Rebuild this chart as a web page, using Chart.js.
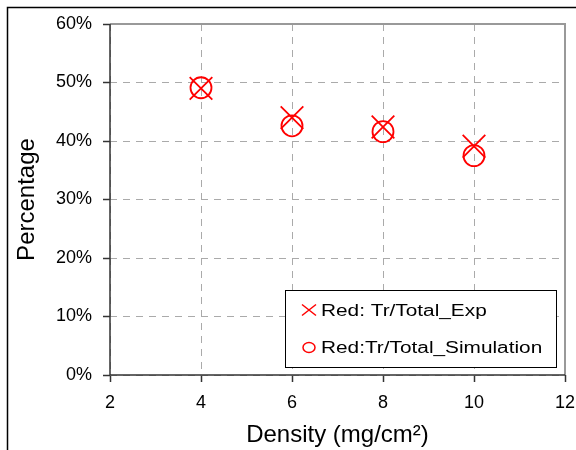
<!DOCTYPE html>
<html>
<head>
<meta charset="utf-8">
<script src="https://cdn.jsdelivr.net/npm/chart.js@4/dist/chart.umd.min.js"></script>
<style>
  html, body { margin: 0; padding: 0; background: #fff; }
  #wrap { width: 576px; height: 450px; }
</style>
</head>
<body>
<div id="wrap"><canvas id="chart" width="576" height="450"></canvas></div>
<script>
// values
const densities = [4, 6, 8, 10];
const expPercent = [49.0, 44.0, 42.4, 39.1];
const simPercent = [49.1, 42.6, 41.6, 37.5];
const seriesLabels = ['Red: Tr/Total_Exp', 'Red:Tr/Total_Simulation'];
const xTitle = 'Density (mg/cm\u00B2)';
const yTitle = 'Percentage';

const FONT = "'Liberation Sans', Arial, sans-serif";
Chart.defaults.font.family = FONT;
Chart.defaults.color = '#000';

const toPoints = (ys) => densities.map((d, i) => ({ x: d, y: ys[i] }));

// outer frame + plot frame lines
const framePlugin = {
    id: 'frame',
    beforeDraw(chart) {
        const ctx = chart.ctx;
        ctx.save();
        ctx.fillStyle = '#fff';
        ctx.fillRect(0, 0, chart.width, chart.height);
        ctx.strokeStyle = '#000';
        ctx.lineWidth = 1.5;
        ctx.beginPath();
        ctx.moveTo(7.5, chart.height);
        ctx.lineTo(7.5, 7.5);
        ctx.lineTo(chart.width, 7.5);
        ctx.stroke();
        ctx.restore();
    },
    beforeDatasetsDraw(chart) {
        const { ctx, chartArea: a } = chart;
        ctx.save();
        ctx.strokeStyle = '#999';
        ctx.lineWidth = 2;
        ctx.beginPath();
        ctx.moveTo(a.left, a.top);
        ctx.lineTo(a.right, a.top);
        ctx.lineTo(a.right, a.bottom);
        ctx.stroke();
        ctx.strokeStyle = '#333';
        ctx.lineWidth = 1.5;
        ctx.beginPath();
        ctx.moveTo(a.left, a.top);
        ctx.lineTo(a.left, a.bottom);
        ctx.lineTo(a.right, a.bottom);
        ctx.stroke();
        ctx.restore();
    }
};

// boxed legend inside the plot, lower right (text is horizontally stretched like the source)
const boxLegend = {
    id: 'boxLegend',
    afterDraw(chart) {
        const ctx = chart.ctx;
        const box = { x: 285.5, y: 290.5, w: 271, h: 77 };
        const rows = [310, 347.5];
        const sx = 1.3;
        ctx.save();
        ctx.fillStyle = '#fff';
        ctx.fillRect(box.x, box.y, box.w, box.h);
        ctx.strokeStyle = '#000';
        ctx.lineWidth = 1;
        ctx.strokeRect(box.x, box.y, box.w, box.h);

        chart.data.datasets.forEach((ds, i) => {
            const cy = rows[i];
            ctx.strokeStyle = ds.borderColor;
            ctx.lineWidth = 1.5;
            ctx.beginPath();
            if (ds.pointStyle === 'crossRot') {
                ctx.moveTo(302, cy - 5.5); ctx.lineTo(316, cy + 5.5);
                ctx.moveTo(316, cy - 5.5); ctx.lineTo(302, cy + 5.5);
            } else {
                ctx.ellipse(309, cy, 6, 5, 0, 0, Math.PI * 2);
            }
            ctx.stroke();

            ctx.save();
            ctx.translate(321, cy + 5.5);
            ctx.scale(sx, 1);
            ctx.fillStyle = '#000';
            ctx.font = '16px ' + FONT;
            ctx.textBaseline = 'alphabetic';
            ctx.fillText(ds.label, 0, 0);
            ctx.restore();
        });
        ctx.restore();
    }
};

const gridCommon = {
    color: '#aaa',
    lineWidth: 1,
    drawTicks: true,
    tickLength: 7,
    tickColor: '#333',
    tickWidth: 1.5,
    tickBorderDash: []
};

new Chart(document.getElementById('chart'), {
    type: 'scatter',
    data: {
        datasets: [
            {
                label: seriesLabels[0],
                data: toPoints(expPercent),
                pointStyle: 'crossRot',
                pointRadius: 16,
                pointHoverRadius: 16,
                borderColor: '#ff0000',
                backgroundColor: 'rgba(0,0,0,0)',
                pointBorderWidth: 1.8,
                showLine: false
            },
            {
                label: seriesLabels[1],
                data: toPoints(simPercent),
                pointStyle: 'circle',
                pointRadius: 10.5,
                pointHoverRadius: 10.5,
                borderColor: '#ff0000',
                backgroundColor: 'rgba(0,0,0,0)',
                pointBorderWidth: 1.8,
                showLine: false
            }
        ]
    },
    options: {
        responsive: false,
        animation: false,
        events: [],
        layout: { autoPadding: false, padding: { left: 8, right: 11, top: 24, bottom: 0 } },
        plugins: {
            legend: { display: false },
            tooltip: { enabled: false }
        },
        scales: {
            x: {
                type: 'linear',
                min: 2,
                max: 12,
                afterFit: (s) => { s.height = 75; s.paddingLeft = 0; s.paddingRight = 0; },
                ticks: { stepSize: 2, padding: 10, font: { size: 18 }, color: '#000' },
                grid: gridCommon,
                border: { display: false, dash: [7, 6] },
                title: {
                    display: true,
                    text: xTitle,
                    font: { size: 24 },
                    color: '#000',
                    padding: { top: 0, bottom: 0 }
                }
            },
            y: {
                min: 0,
                max: 60,
                afterFit: (s) => { s.width = 102; s.paddingTop = 0; s.paddingBottom = 0; },
                ticks: {
                    stepSize: 10,
                    padding: 11,
                    font: { size: 18 },
                    color: '#000',
                    callback: (v) => v + '%'
                },
                grid: gridCommon,
                border: { display: false, dash: [7, 6] },
                title: {
                    display: true,
                    text: yTitle,
                    font: { size: 24 },
                    color: '#000',
                    padding: { top: 5, bottom: 0 }
                }
            }
        }
    },
    plugins: [framePlugin, boxLegend]
});
</script>
</body>
</html>
